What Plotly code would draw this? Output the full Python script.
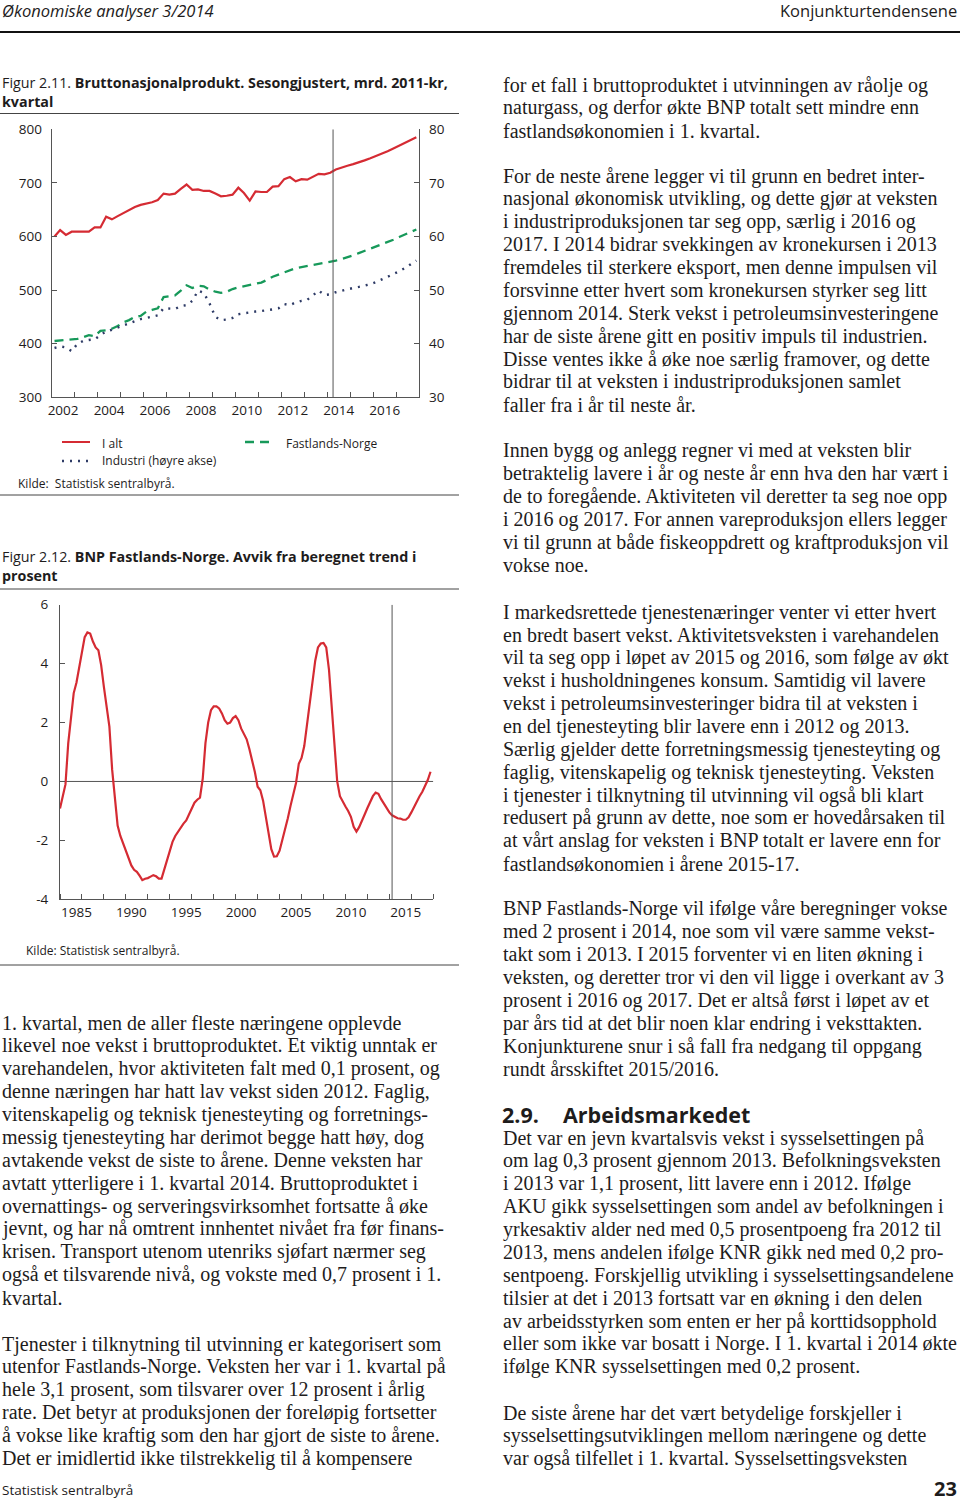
import plotly.graph_objects as go

W, H = 960, 1502


def px(x):
    return x / W


def py(y):
    return 1 - y / H


# ---------------- DATA ----------------
# Figur 2.11: quarterly 2002K1-2017K4, mrd. 2011-kr
years_211 = list(range(2002, 2018))
ialt = [600, 612, 603, 609,
        609, 609, 609, 617,
        617, 637, 632, 638,
        644, 650, 655, 659,
        661, 664, 668, 680,
        678, 680, 689, 697,
        687, 688, 685, 685,
        680, 675, 676, 678,
        691, 681, 667, 684,
        683, 683, 693, 694,
        707, 711, 703, 707,
        706, 712, 717, 716,
        719, 725, 729, 732,
        735, 738, 742, 746,
        750, 755, 759, 764,
        769, 774, 779, 785]
fastlands = [405, 406, 407, 407,
             409, 412, 416, 414,
             424, 425, 428, 433,
             440, 444, 450, 452,
             460, 463, 466, 487,
             489, 490, 499, 509,
             504, 508, 507, 501,
             497, 495, 497, 502,
             505, 507, 509, 511,
             514, 519, 525, 529,
             533, 537, 541, 543,
             545, 546, 548, 550,
             552, 555, 558, 561,
             565, 569, 573, 577,
             581, 585, 590, 594,
             599, 604, 609, 613]
industri = [39.2, 39.5, 39.3, 38.6,
            40.0, 40.5, 40.7, 40.8,
            41.6, 42.3, 42.6, 43.0,
            43.5, 43.9, 44.2, 44.6,
            44.8, 45.0, 45.3, 46.6,
            46.5, 46.5, 47.0, 47.2,
            48.0, 49.9, 49.5, 47.5,
            45.0, 44.4, 44.5, 44.8,
            45.5, 45.7, 45.9, 46.0,
            46.1, 46.2, 46.4, 46.6,
            47.4, 47.2, 47.7, 48.0,
            48.2, 49.0, 49.9, 49.1,
            49.2, 49.6, 49.9, 50.2,
            50.4, 50.6, 50.8, 51.1,
            51.5, 52.0, 52.4, 52.9,
            53.5, 54.1, 54.8, 55.5]
xticks_211 = ["2002", "2004", "2006", "2008", "2010", "2012", "2014", "2016"]

# Figur 2.12: quarterly 1984K1-2017K4, avvik fra trend i prosent
years_212 = list(range(1984, 2018))
avvik = [-0.92, -0.55, -0.10, 1.30,
         2.10, 3.00, 3.35, 3.90,
         4.50, 4.90, 5.06, 5.02,
         4.75, 4.55, 4.45, 3.95,
         3.20, 2.55, 1.86, 0.40,
         -0.70, -1.50, -1.85, -2.10,
         -2.35, -2.60, -2.85, -3.00,
         -3.07, -3.20, -3.35, -3.30,
         -3.28, -3.23, -3.18, -3.22,
         -3.30, -3.30, -3.00, -2.65,
         -2.35, -2.05, -1.85, -1.70,
         -1.58, -1.43, -1.32, -1.10,
         -0.90, -0.72, -0.62, -0.55,
         0.10, 1.30, 2.00, 2.42,
         2.55, 2.55, 2.48, 2.31,
         2.08, 1.96, 2.00, 2.15,
         2.22, 2.08, 1.80, 1.60,
         1.43, 1.10, 0.75, 0.32,
         -0.18, -0.30, -0.65, -1.20,
         -1.75, -2.30, -2.55, -2.54,
         -2.35, -2.00, -1.60, -1.25,
         -0.82, -0.45, -0.05, 0.60,
         0.80, 1.20, 1.90, 2.70,
         3.40, 4.10, 4.55, 4.68,
         4.70, 4.55, 3.80, 2.42,
         1.25, 0.00, -0.50, -0.70,
         -0.85, -1.00, -1.20, -1.54,
         -1.70, -1.55, -1.30, -1.12,
         -0.90, -0.70, -0.50, -0.38,
         -0.42, -0.60, -0.75, -0.92,
         -1.05, -1.15, -1.20, -1.25,
         -1.26, -1.30, -1.30, -1.22,
         -1.05, -0.85, -0.70, -0.50,
         -0.35, -0.15, 0.05, 0.33]
xticks_212 = ["1985", "1990", "1995", "2000", "2005", "2010", "2015"]
yticks_212 = [-4, -2, 0, 2, 4, 6]

# quarter positions on a date axis
q211 = [f"{y}-{m:02d}-15" for y in years_211 for m in (2, 5, 8, 11)]
q212 = [f"{y}-{m:02d}-01" for y in years_212 for m in (1, 4, 7, 10)]

# ---------------- TEXT ----------------
right_paras = [
    (85, ["for et fall i bruttoproduktet i utvinningen av råolje og",
          "naturgass, og derfor økte BNP totalt sett mindre enn",
          "fastlandsøkonomien i 1. kvartal."]),
    (176, ["For de neste årene legger vi til grunn en bedret inter-",
           "nasjonal økonomisk utvikling, og dette gjør at veksten",
           "i industriproduksjonen tar seg opp, særlig i 2016 og",
           "2017. I 2014 bidrar svekkingen av kronekursen i 2013",
           "fremdeles til sterkere eksport, men denne impulsen vil",
           "forsvinne etter hvert som kronekursen styrker seg litt",
           "gjennom 2014. Sterk vekst i petroleumsinvesteringene",
           "har de siste årene gitt en positiv impuls til industrien.",
           "Disse ventes ikke å øke noe særlig framover, og dette",
           "bidrar til at veksten i industriproduksjonen samlet",
           "faller fra i år til neste år."]),
    (451, ["Innen bygg og anlegg regner vi med at veksten blir",
           "betraktelig lavere i år og neste år enn hva den har vært i",
           "de to foregående. Aktiviteten vil deretter ta seg noe opp",
           "i 2016 og 2017. For annen vareproduksjon ellers legger",
           "vi til grunn at både fiskeoppdrett og kraftproduksjon vil",
           "vokse noe."]),
    (612, ["I markedsrettede tjenestenæringer venter vi etter hvert",
           "en bredt basert vekst. Aktivitetsveksten i varehandelen",
           "vil ta seg opp i løpet av 2015 og 2016, som følge av økt",
           "vekst i husholdningenes konsum. Samtidig vil lavere",
           "vekst i petroleumsinvesteringer bidra til at veksten i",
           "en del tjenesteyting blir lavere enn i 2012 og 2013.",
           "Særlig gjelder dette forretningsmessig tjenesteyting og",
           "faglig, vitenskapelig og teknisk tjenesteyting. Veksten",
           "i tjenester i tilknytning til utvinning vil også bli klart",
           "redusert på grunn av dette, noe som er hovedårsaken til",
           "at vårt anslag for veksten i BNP totalt er lavere enn for",
           "fastlandsøkonomien i årene 2015-17."]),
    (909, ["BNP Fastlands-Norge vil ifølge våre beregninger vokse",
           "med 2 prosent i 2014, noe som vil være samme vekst-",
           "takt som i 2013. I 2015 forventer vi en liten økning i",
           "veksten, og deretter tror vi den vil ligge i overkant av 3",
           "prosent i 2016 og 2017. Det er altså først i løpet av et",
           "par års tid at det blir noen klar endring i veksttakten.",
           "Konjunkturene snur i så fall fra nedgang til oppgang",
           "rundt årsskiftet 2015/2016."]),
    (1138, ["Det var en jevn kvartalsvis vekst i sysselsettingen på",
            "om lag 0,3 prosent gjennom 2013. Befolkningsveksten",
            "i 2013 var 1,1 prosent, litt lavere enn i 2012. Ifølge",
            "AKU gikk sysselsettingen som andel av befolkningen i",
            "yrkesaktiv alder ned med 0,5 prosentpoeng fra 2012 til",
            "2013, mens andelen ifølge KNR gikk ned med 0,2 pro-",
            "sentpoeng. Forskjellig utvikling i sysselsettingsandelene",
            "tilsier at det i 2013 fortsatt var en økning i den delen",
            "av arbeidsstyrken som enten er her på korttidsopphold",
            "eller som ikke var bosatt i Norge. I 1. kvartal i 2014 økte",
            "ifølge KNR sysselsettingen med 0,2 prosent."]),
    (1413, ["De siste årene har det vært betydelige forskjeller i",
            "sysselsettingsutviklingen mellom næringene og dette",
            "var også tilfellet i 1. kvartal. Sysselsettingsveksten"]),
]
left_paras = [
    (1023, ["1. kvartal, men de aller fleste næringene opplevde",
            "likevel noe vekst i bruttoproduktet. Et viktig unntak er",
            "varehandelen, hvor aktiviteten falt med 0,1 prosent, og",
            "denne næringen har hatt lav vekst siden 2012. Faglig,",
            "vitenskapelig og teknisk tjenesteyting og forretnings-",
            "messig tjenesteyting har derimot begge hatt høy, dog",
            "avtakende vekst de siste to årene. Denne veksten har",
            "avtatt ytterligere i 1. kvartal 2014. Bruttoproduktet i",
            "overnattings- og serveringsvirksomhet fortsatte å øke",
            "jevnt, og har nå omtrent innhentet nivået fra før finans-",
            "krisen. Transport utenom utenriks sjøfart nærmer seg",
            "også et tilsvarende nivå, og vokste med 0,7 prosent i 1.",
            "kvartal."]),
    (1344, ["Tjenester i tilknytning til utvinning er kategorisert som",
            "utenfor Fastlands-Norge. Veksten her var i 1. kvartal på",
            "hele 3,1 prosent, som tilsvarer over 12 prosent i årlig",
            "rate. Det betyr at produksjonen der foreløpig fortsetter",
            "å vokse like kraftig som den har gjort de siste to årene.",
            "Det er imidlertid ikke tilstrekkelig til å kompensere"]),
]

# ---------------- STYLE ----------------
RED = "#d52b33"
GREEN = "#17995a"
NAVY = "#2e3b66"
AXC = "#555555"
TXT = "#1e1c1c"
SANS = "Open Sans"
SERIF = "Liberation Serif"
LINE_STEP = 22.88
BODY_SIZE = 20.0

fig = go.Figure()

fig.add_trace(go.Scatter(x=q211, y=ialt, mode="lines", name="I alt",
                         line=dict(color=RED, width=2.2), xaxis="x", yaxis="y"))
fig.add_trace(go.Scatter(x=q211, y=fastlands, mode="lines", name="Fastlands-Norge",
                         line=dict(color=GREEN, width=2.3, dash="9px,6px"), xaxis="x", yaxis="y"))
fig.add_trace(go.Scatter(x=q211, y=industri, mode="lines", name="Industri (høyre akse)",
                         line=dict(color=NAVY, width=2.4, dash="2px,6px"), xaxis="x", yaxis="y2"))
fig.add_trace(go.Scatter(x=q212, y=avvik, mode="lines", name="BNP Fastlands-Norge",
                         line=dict(color=RED, width=2.2), xaxis="x2", yaxis="y3"))

tickfont = dict(family=SANS, size=13.5, color=TXT)

fig.update_layout(
    width=W, height=H, margin=dict(l=0, r=0, t=0, b=0, pad=0, autoexpand=False),
    paper_bgcolor="white", plot_bgcolor="white", showlegend=False,
    font=dict(family=SANS, size=13, color=TXT),
    xaxis=dict(domain=[px(51.7), px(419.3)], anchor="y", type="date",
               range=["2002-01-01", "2018-01-01"], showline=True, linecolor=AXC,
               linewidth=1, showgrid=False, zeroline=False, ticks="",
               tickmode="array", tickvals=[f"{t}-07-01" for t in xticks_211],
               ticktext=xticks_211, tickfont=tickfont, ticklabelstandoff=0,
               minor=dict(ticks="inside", ticklen=5, tickcolor=AXC, tickwidth=1,
                          tickvals=[f"{y}-01-01" for y in range(2002, 2019)],
                          showgrid=False)),
    yaxis=dict(domain=[py(397.3), py(129.3)], anchor="x", range=[300, 800],
               tickmode="array", tickvals=[300, 400, 500, 600, 700, 800],
               ticks="inside", ticklen=5, tickcolor=AXC, showline=True,
               linecolor=AXC, showgrid=False, zeroline=False, tickfont=tickfont,
               ticklabelstandoff=6),
    yaxis2=dict(overlaying="y", side="right", anchor="x", range=[30, 80],
                tickmode="array", tickvals=[30, 40, 50, 60, 70, 80],
                ticks="inside", ticklen=5, tickcolor=AXC, showline=True,
                linecolor=AXC, showgrid=False, zeroline=False, tickfont=tickfont,
                ticklabelstandoff=6),
    xaxis2=dict(domain=[px(60), px(433.3)], anchor="y3", type="date",
                range=["1984-01-01", "2018-01-01"], showline=True, linecolor=AXC,
                showgrid=False, zeroline=False, ticks="",
                tickmode="array", tickvals=[f"{t}-07-01" for t in xticks_212],
                ticktext=xticks_212, tickfont=tickfont, ticklabelstandoff=0,
                minor=dict(ticks="inside", ticklen=5, tickcolor=AXC, tickwidth=1,
                           tickvals=[f"{y}-01-01" for y in range(1984, 2019, 2)],
                           showgrid=False)),
    yaxis3=dict(domain=[py(899.3), py(604.7)], anchor="x2", range=[-4, 6],
                tickmode="array", tickvals=yticks_212,
                ticktext=[str(v) for v in yticks_212],
                ticks="inside", ticklen=5, tickcolor=AXC, showline=True,
                linecolor=AXC, showgrid=False, zeroline=False, tickfont=tickfont,
                ticklabelstandoff=8),
)

shapes = []
# forecast divider lines and zero line
shapes.append(dict(type="line", xref="x", yref="y", x0="2014-04-01", x1="2014-04-01",
                   y0=300, y1=800, line=dict(color=AXC, width=1)))
shapes.append(dict(type="line", xref="x2", yref="y3", x0="2014-04-01", x1="2014-04-01",
                   y0=-4, y1=6, line=dict(color=AXC, width=1)))
shapes.append(dict(type="line", xref="x2", yref="y3", x0="1984-01-01", x1="2018-01-01",
                   y0=0, y1=0, line=dict(color=AXC, width=1), layer="below"))


def hrule(y, x0, x1, width=1, color="#444444"):
    shapes.append(dict(type="line", xref="paper", yref="paper", x0=px(x0), x1=px(x1),
                       y0=py(y), y1=py(y), line=dict(color=color, width=width)))


hrule(32, 0, 960, width=2.2, color="#111111")
hrule(113.5, 0, 459)
hrule(495, 0, 459)
hrule(589, 0, 459)
hrule(965, 0, 459)


def legend_line(x0, x1, y, color, dash, width):
    shapes.append(dict(type="line", xref="paper", yref="paper", x0=px(x0), x1=px(x1),
                       y0=py(y), y1=py(y), line=dict(color=color, width=width, dash=dash)))


legend_line(62, 90, 442, RED, "solid", 2)
legend_line(245, 272, 442, GREEN, "9px,6px", 2.3)
legend_line(62, 90, 461, NAVY, "2px,6px", 2.4)

fig.update_layout(shapes=shapes)

ann = []


def text(x, y, s, size=13, family=SANS, anchor="left", color=TXT):
    ann.append(dict(xref="paper", yref="paper", x=px(x), y=py(y), text=s,
                    showarrow=False, xanchor=anchor, yanchor="middle",
                    font=dict(family=family, size=size, color=color), borderpad=0))


# header / footer
text(1, 10, "<i>Økonomiske analyser 3/2014</i>", size=16.5)
text(958, 10, "Konjunkturtendensene", size=16.5, anchor="right")
text(1, 1490, "Statistisk sentralbyrå", size=13.5)
text(958, 1488, "<b>23</b>", size=20, anchor="right")

# figure captions
text(1, 82, "Figur 2.11. <b>Bruttonasjonalprodukt. Sesongjustert, mrd. 2011-kr,</b>", size=14.3)
text(1, 101, "<b>kvartal</b>", size=14.3)
text(1, 557, "Figur 2.12. <b>BNP Fastlands-Norge. Avvik fra beregnet trend i</b>", size=14.3)
text(1, 576, "<b>prosent</b>", size=14.3)

# legend labels
text(101, 443, "I alt", size=12)
text(285, 443, "Fastlands-Norge", size=12)
text(101, 461, "Industri (høyre akse)", size=12)
text(17, 483, "Kilde:  Statistisk sentralbyrå.", size=12)
text(25, 950, "Kilde: Statistisk sentralbyrå.", size=12)

# section heading
text(501, 1114, "<b>2.9.</b>", size=21.5)
text(562, 1114, "<b>Arbeidsmarkedet</b>", size=21.5)

# body text
for y0, lines in right_paras:
    for i, line in enumerate(lines):
        text(502, y0 + i * LINE_STEP, line, size=BODY_SIZE, family=SERIF)
for y0, lines in left_paras:
    for i, line in enumerate(lines):
        text(1, y0 + i * LINE_STEP, line, size=BODY_SIZE, family=SERIF)

fig.update_layout(annotations=ann)

fig.write_html("out.html",
               config={"displayModeBar": False},
               post_script="document.body.style.margin='0px';"
                           "document.body.style.overflow='hidden';")
